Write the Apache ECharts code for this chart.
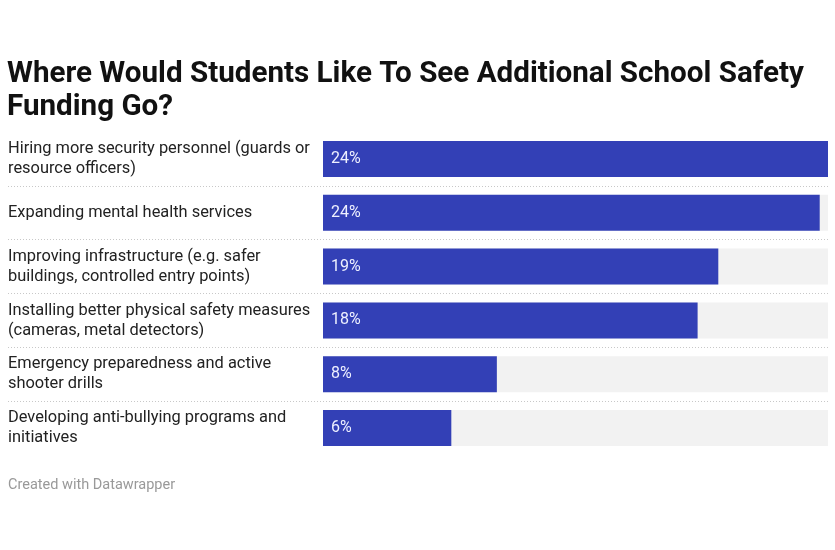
<!DOCTYPE html>
<html><head><meta charset="utf-8">
<script src="https://cdn.jsdelivr.net/npm/echarts@6/dist/echarts.min.js"></script>
<style>html,body{margin:0;padding:0;background:#fff}#c{width:835px;height:550px}</style>
</head><body><div id="c"></div>
<script>
const categories = [
  "Hiring more security personnel (guards or\nresource officers)",
  "Expanding mental health services",
  "Improving infrastructure (e.g. safer\nbuildings, controlled entry points)",
  "Installing better physical safety measures\n(cameras, metal detectors)",
  "Emergency preparedness and active\nshooter drills",
  "Developing anti-bullying programs and\ninitiatives"
];
const values = [24.4, 24.0, 19.1, 18.1, 8.4, 6.2];
const titleText = "Where Would Students Like To See Additional School Safety\nFunding Go?";
const footerText = "Created with Datawrapper";

const chart = echarts.init(document.getElementById('c'), null, {renderer: 'canvas'});
const gTop = 132, gHeight = 323;
chart.setOption({
  animation: false,
  backgroundColor: '#fff',
  title: [
    {text: titleText, left: 7, top: 58, padding: 0,
     textStyle: {fontFamily: 'Roboto', fontWeight: 'bold', fontSize: 29.6, lineHeight: 33, color: '#111'}},
    {text: footerText, left: 8, top: 478, padding: 0,
     textStyle: {fontFamily: 'Roboto', fontWeight: 'normal', fontSize: 14.5, color: '#999'}}
  ],
  grid: [
    {left: 8, right: 7, top: gTop, height: gHeight, containLabel: false},
    {left: 323, right: 7, top: gTop, height: gHeight, containLabel: false}
  ],
  xAxis: [
    {gridIndex: 0, type: 'value', min: 0, max: 1, show: false},
    {gridIndex: 1, type: 'value', min: 0, max: values[0], show: false}
  ],
  yAxis: [
    {gridIndex: 0, type: 'category', data: categories, inverse: true,
     axisLine: {show: false}, axisTick: {show: false}, axisLabel: {show: false},
     splitLine: {show: true, showMinLine: false, showMaxLine: false, lineStyle: {type: [1, 2], color: '#c8c8c8', width: 1}}},
    {gridIndex: 1, type: 'category', data: categories, inverse: true,
     axisLine: {show: false}, axisTick: {show: false}, splitLine: {show: false},
     axisLabel: {show: true, align: 'left', margin: 315, fontFamily: 'Roboto', fontSize: 16.4, lineHeight: 20, color: '#222', padding: [9, 0, 0, 0]}}
  ],
  series: [
    {type: 'bar', xAxisIndex: 1, yAxisIndex: 1, data: values, barWidth: 36,
     itemStyle: {color: '#3340b6'},
     showBackground: true, backgroundStyle: {color: '#f2f2f2'},
     label: {show: true, position: 'insideLeft', distance: 8, fontFamily: 'Roboto', fontSize: 16, color: '#eef0ff',
       formatter: p => Math.round(p.value) + '%'}}
  ]
});
</script></body></html>
